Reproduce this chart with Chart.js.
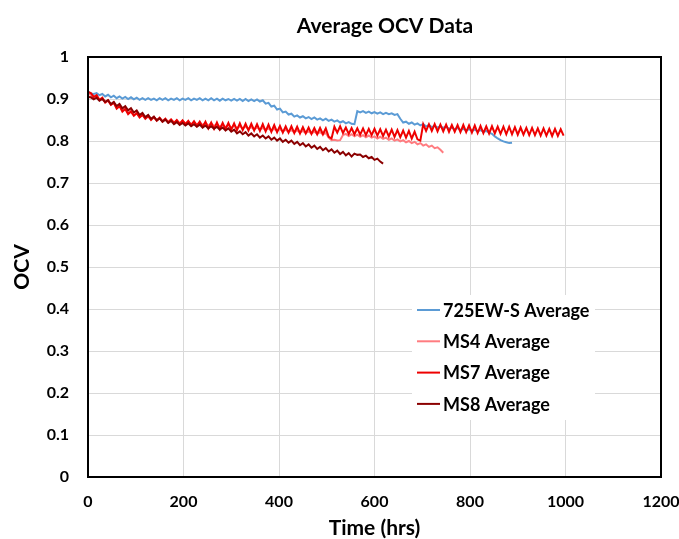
<!DOCTYPE html>
<html>
<head>
<meta charset="utf-8">
<title>Average OCV Data</title>
<script src="https://cdn.jsdelivr.net/npm/chart.js@4/dist/chart.umd.min.js"></script>
<style>
  html, body { margin: 0; padding: 0; background: #fff; }
  #wrap { width: 679px; height: 539px; position: relative; }
</style>
</head>
<body>
<div id="wrap"><canvas id="ocvChart"></canvas></div>
<script>
// tiempo en horas (cada 6 h)
const hours = [
  0, 6, 12, 18, 24, 30, 36, 42, 48, 54,
  60, 66, 72, 78, 84, 90, 96, 102, 108, 114,
  120, 126, 132, 138, 144, 150, 156, 162, 168, 174,
  180, 186, 192, 198, 204, 210, 216, 222, 228, 234,
  240, 246, 252, 258, 264, 270, 276, 282, 288, 294,
  300, 306, 312, 318, 324, 330, 336, 342, 348, 354,
  360, 366, 372, 378, 384, 390, 396, 402, 408, 414,
  420, 426, 432, 438, 444, 450, 456, 462, 468, 474,
  480, 486, 492, 498, 504, 510, 516, 522, 528, 534,
  540, 546, 552, 558, 564, 570, 576, 582, 588, 594,
  600, 606, 612, 618, 624, 630, 636, 642, 648, 654,
  660, 666, 672, 678, 684, 690, 696, 702, 708, 714,
  720, 726, 732, 738, 744, 750, 756, 762, 768, 774,
  780, 786, 792, 798, 804, 810, 816, 822, 828, 834,
  840, 846, 852, 858, 864, 870, 876, 882, 888, 894,
  900, 906, 912, 918, 924, 930, 936, 942, 948, 954,
  960, 966, 972, 978, 984, 990, 996
];

const ocv725 = [
  0.918, 0.913, 0.912, 0.914, 0.909, 0.912, 0.906, 0.910, 0.904, 0.908,
  0.902, 0.906, 0.901, 0.905, 0.900, 0.904, 0.899, 0.903, 0.898, 0.902,
  0.898, 0.902, 0.898, 0.901, 0.897, 0.902, 0.898, 0.902, 0.897, 0.901,
  0.898, 0.902, 0.897, 0.901, 0.898, 0.902, 0.897, 0.901, 0.898, 0.902,
  0.897, 0.901, 0.897, 0.902, 0.897, 0.901, 0.896, 0.901, 0.897, 0.900,
  0.896, 0.900, 0.896, 0.900, 0.895, 0.900, 0.895, 0.899, 0.895, 0.899,
  0.894, 0.897, 0.889, 0.891, 0.882, 0.884, 0.875, 0.877, 0.868, 0.870,
  0.863, 0.865, 0.858, 0.861, 0.856, 0.859, 0.854, 0.857, 0.852, 0.856,
  0.851, 0.854, 0.849, 0.853, 0.848, 0.851, 0.846, 0.849, 0.844, 0.847,
  0.842, 0.845, 0.841, 0.840, 0.871, 0.868, 0.871, 0.867, 0.870, 0.866,
  0.869, 0.865, 0.868, 0.864, 0.867, 0.864, 0.866, 0.862, 0.864, 0.853,
  0.844, 0.846, 0.841, 0.844, 0.839, 0.842, 0.837, 0.840, 0.835, 0.838,
  0.833, 0.836, 0.832, 0.835, 0.831, 0.834, 0.829, 0.832, 0.828, 0.831,
  0.826, 0.829, 0.825, 0.828, 0.824, 0.827, 0.823, 0.826, 0.822, 0.824,
  0.820, 0.817, 0.811, 0.806, 0.802, 0.799, 0.797, 0.795, 0.796
];

const ocvMS4 = [
  0.912, 0.910, 0.903, 0.907, 0.897, 0.901, 0.891, 0.896, 0.886, 0.891,
  0.879, 0.884, 0.873, 0.878, 0.867, 0.872, 0.862, 0.867, 0.858, 0.863,
  0.855, 0.860, 0.852, 0.857, 0.850, 0.855, 0.848, 0.853, 0.846, 0.851,
  0.844, 0.849, 0.843, 0.848, 0.842, 0.846, 0.840, 0.845, 0.839, 0.844,
  0.838, 0.843, 0.837, 0.842, 0.836, 0.840, 0.834, 0.839, 0.833, 0.838,
  0.832, 0.836, 0.831, 0.835, 0.830, 0.834, 0.829, 0.833, 0.828, 0.832,
  0.827, 0.831, 0.826, 0.830, 0.825, 0.829, 0.824, 0.828, 0.823, 0.827,
  0.822, 0.826, 0.821, 0.825, 0.820, 0.824, 0.819, 0.823, 0.818, 0.822,
  0.817, 0.821, 0.816, 0.819, 0.808, 0.802, 0.803, 0.801, 0.802, 0.814,
  0.817, 0.812, 0.816, 0.811, 0.815, 0.810, 0.814, 0.809, 0.813, 0.808,
  0.811, 0.806, 0.810, 0.805, 0.808, 0.803, 0.806, 0.801, 0.804, 0.799,
  0.802, 0.797, 0.800, 0.795, 0.798, 0.792, 0.795, 0.789, 0.792, 0.786,
  0.789, 0.783, 0.785, 0.779, 0.772
];

const ocvMS7 = [
  0.917, 0.914, 0.905, 0.909, 0.898, 0.903, 0.892, 0.897, 0.886, 0.891,
  0.877, 0.883, 0.870, 0.876, 0.864, 0.870, 0.860, 0.866, 0.856, 0.862,
  0.853, 0.859, 0.850, 0.857, 0.848, 0.855, 0.846, 0.853, 0.844, 0.851,
  0.843, 0.850, 0.841, 0.849, 0.840, 0.848, 0.838, 0.847, 0.836, 0.846,
  0.834, 0.846, 0.830, 0.844, 0.829, 0.844, 0.828, 0.843, 0.828, 0.843,
  0.827, 0.842, 0.826, 0.842, 0.826, 0.841, 0.825, 0.841, 0.825, 0.840,
  0.824, 0.840, 0.823, 0.839, 0.822, 0.838, 0.821, 0.836, 0.820, 0.835,
  0.820, 0.835, 0.819, 0.834, 0.818, 0.833, 0.818, 0.832, 0.817, 0.831,
  0.816, 0.831, 0.816, 0.830, 0.810, 0.806, 0.834, 0.820, 0.835, 0.819,
  0.832, 0.817, 0.831, 0.816, 0.830, 0.815, 0.830, 0.814, 0.829, 0.814,
  0.829, 0.813, 0.828, 0.812, 0.827, 0.811, 0.827, 0.810, 0.826, 0.809,
  0.825, 0.808, 0.824, 0.806, 0.822, 0.804, 0.801, 0.840, 0.824, 0.840,
  0.824, 0.840, 0.823, 0.839, 0.823, 0.839, 0.822, 0.838, 0.822, 0.838,
  0.821, 0.838, 0.821, 0.837, 0.820, 0.837, 0.819, 0.836, 0.819, 0.835,
  0.818, 0.835, 0.818, 0.834, 0.817, 0.834, 0.816, 0.834, 0.816, 0.833,
  0.815, 0.832, 0.815, 0.831, 0.814, 0.831, 0.814, 0.830, 0.813, 0.830,
  0.813, 0.829, 0.812, 0.829, 0.812, 0.828, 0.813
];

const ocvMS8 = [
  0.905, 0.904, 0.899, 0.903, 0.896, 0.900, 0.893, 0.897, 0.888, 0.893,
  0.883, 0.888, 0.878, 0.883, 0.873, 0.878, 0.868, 0.873, 0.862, 0.867,
  0.857, 0.862, 0.853, 0.858, 0.849, 0.854, 0.846, 0.851, 0.843, 0.848,
  0.840, 0.845, 0.838, 0.843, 0.837, 0.842, 0.835, 0.840, 0.834, 0.839,
  0.832, 0.837, 0.830, 0.835, 0.829, 0.834, 0.827, 0.832, 0.825, 0.830,
  0.822, 0.827, 0.818, 0.823, 0.816, 0.821, 0.813, 0.818, 0.811, 0.816,
  0.808, 0.813, 0.806, 0.811, 0.803, 0.808, 0.801, 0.806, 0.798, 0.803,
  0.796, 0.801, 0.793, 0.798, 0.790, 0.795, 0.787, 0.792, 0.784, 0.789,
  0.781, 0.786, 0.778, 0.783, 0.775, 0.780, 0.772, 0.777, 0.769, 0.774,
  0.766, 0.771, 0.763, 0.770, 0.767, 0.768, 0.762, 0.765, 0.759, 0.762,
  0.755, 0.758, 0.751, 0.746
];

const seriesNames = ['725EW-S Average', 'MS4 Average', 'MS7 Average', 'MS8 Average'];
const seriesColors = ['#5B9BD5', '#FF7C80', '#EE0000', '#8B0000'];
const yTickLabels = ['0', '0.1', '0.2', '0.3', '0.4', '0.5', '0.6', '0.7', '0.8', '0.9', '1'];

function aPuntos(valores) {
  return valores.map((v, i) => ({ x: hours[i], y: v }));
}

// titulo, marco negro y leyenda dentro del area
const extras = {
  id: 'extras',
  afterDraw(chart) {
    const ctx = chart.ctx;
    const area = chart.chartArea;
    ctx.save();

    ctx.fillStyle = '#000';
    ctx.font = 'bold 21px Lato';
    ctx.textAlign = 'center';
    ctx.textBaseline = 'middle';
    ctx.fillText('Average OCV Data', 385, 26);

    ctx.strokeStyle = '#000';
    ctx.lineWidth = 2;
    ctx.strokeRect(area.left, area.top, area.right - area.left, area.bottom - area.top);

    ctx.fillStyle = '#fff';
    ctx.fillRect(412, 295, 183, 125);
    ctx.font = 'bold 18px Lato';
    ctx.textAlign = 'left';
    chart.data.datasets.forEach((ds, i) => {
      const y = 310 + i * 31.3;
      ctx.strokeStyle = ds.borderColor;
      ctx.lineWidth = 2;
      ctx.beginPath();
      ctx.moveTo(417, y);
      ctx.lineTo(440, y);
      ctx.stroke();
      ctx.fillStyle = '#000';
      ctx.fillText(ds.label, 443, y + 1);
    });
    ctx.restore();
  }
};

const ctx = document.getElementById('ocvChart').getContext('2d');
new Chart(ctx, {
  type: 'line',
  data: {
    datasets: [ocv725, ocvMS4, ocvMS7, ocvMS8].map((vals, i) => ({
      label: seriesNames[i],
      data: aPuntos(vals),
      borderColor: seriesColors[i],
      backgroundColor: seriesColors[i],
      borderWidth: 2,
      pointRadius: 0,
      tension: 0,
      order: 4 - i
    }))
  },
  options: {
    responsive: true,
    maintainAspectRatio: false,
    animation: false,
    layout: { padding: { top: 57, left: 0, right: 18, bottom: 0 } },
    plugins: {
      legend: { display: false },
      title: { display: false },
      tooltip: { enabled: false }
    },
    scales: {
      x: {
        type: 'linear',
        min: 0,
        max: 1200,
        afterFit: (scale) => {
          scale.height = 62;
          scale.paddingLeft = 0;
          scale.paddingRight = 0;
        },
        ticks: {
          stepSize: 200,
          padding: 15,
          color: '#000',
          font: { family: 'Lato', size: 16, weight: 'bold' },
          callback: (v) => String(v)
        },
        grid: { color: '#d9d9d9', lineWidth: 1, drawTicks: false },
        border: { display: false },
        title: {
          display: true,
          text: 'Time (hrs)',
          color: '#000',
          font: { family: 'Lato', size: 21, weight: 'bold', lineHeight: 1 },
          padding: { top: 0, bottom: 0 }
        }
      },
      y: {
        min: 0,
        max: 1,
        afterFit: (scale) => {
          scale.width = 88;
          scale.paddingTop = 0;
          scale.paddingBottom = 0;
        },
        ticks: {
          stepSize: 0.1,
          padding: 19,
          color: '#000',
          font: { family: 'Lato', size: 16, weight: 'bold' },
          callback: (v, i) => yTickLabels[i]
        },
        grid: { color: '#d9d9d9', lineWidth: 1, drawTicks: false },
        border: { display: false },
        title: {
          display: true,
          text: 'OCV',
          color: '#000',
          font: { family: 'Lato', size: 21, weight: 'bold', lineHeight: 1 },
          padding: { top: 12, bottom: 0 }
        }
      }
    }
  },
  plugins: [extras]
});
</script>
</body>
</html>
